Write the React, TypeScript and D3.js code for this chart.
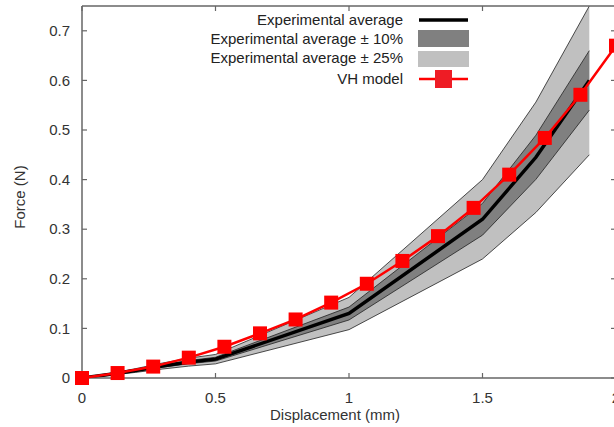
import React from "react";
import * as d3 from "d3";

const WIDTH = 614;
const HEIGHT = 427;
const MARGIN = { top: 6, right: -2, bottom: 49, left: 82 };

// experimental average (mm, N)
const expDisp = [0, 0.1, 0.2, 0.3, 0.4, 0.5, 1.0, 1.5, 1.7, 1.9];
const expForce = [0, 0.007, 0.015, 0.024, 0.032, 0.038, 0.13, 0.32, 0.445, 0.6];

// VH model
const vhDisp = [0, 0.1333, 0.2667, 0.4, 0.5333, 0.6667, 0.8, 0.9333, 1.0667, 1.2, 1.3333, 1.4667, 1.6, 1.7333, 1.8667, 2.0];
const vhForce = [0, 0.01, 0.023, 0.041, 0.063, 0.09, 0.118, 0.152, 0.19, 0.236, 0.286, 0.343, 0.41, 0.484, 0.571, 0.67];

const xTicks = [0, 0.5, 1, 1.5, 2];
const yTicks = [0, 0.1, 0.2, 0.3, 0.4, 0.5, 0.6, 0.7];

const legendLabels = [
  "Experimental average",
  "Experimental average \u00b1 10%",
  "Experimental average \u00b1 25%",
  "VH model",
];

const FONT = "'Liberation Sans', Arial, sans-serif";
const AXIS = "#666";
const TEXT = "#333";

export default function App() {
  const boundsWidth = WIDTH - MARGIN.left - MARGIN.right;
  const boundsHeight = HEIGHT - MARGIN.top - MARGIN.bottom;

  const xScale = d3.scaleLinear().domain([0, 2]).range([0, boundsWidth]);
  const yScale = d3.scaleLinear().domain([0, 0.75]).range([boundsHeight, 0]);

  const exp = expDisp.map((d, i) => ({ x: d, y: expForce[i] }));
  const vh = vhDisp.map((d, i) => ({ x: d, y: vhForce[i] }));

  const band = (k: number) =>
    d3
      .area<{ x: number; y: number }>()
      .x((d) => xScale(d.x))
      .y0((d) => yScale(d.y * (1 - k)))
      .y1((d) => yScale(d.y * (1 + k)))(exp) || "";

  const edge = (k: number) =>
    d3
      .line<{ x: number; y: number }>()
      .x((d) => xScale(d.x))
      .y((d) => yScale(d.y * k))(exp) || "";

  const line = d3
    .line<{ x: number; y: number }>()
    .x((d) => xScale(d.x))
    .y((d) => yScale(d.y));

  const MS = 14;

  return (
    <svg
      width={WIDTH}
      height={HEIGHT}
      style={{ position: "absolute", left: 0, top: 0, background: "#fff" }}
      fontFamily={FONT}
    >
      <defs>
        <clipPath id="plot">
          <rect x={0} y={0} width={boundsWidth} height={boundsHeight} />
        </clipPath>
      </defs>
      <g transform={`translate(${MARGIN.left},${MARGIN.top})`}>
        <g clipPath="url(#plot)">
          <path d={band(0.25)} fill="#c0c0c0" />
          <path d={edge(1.25)} fill="none" stroke="#222" strokeWidth={0.8} />
          <path d={edge(0.75)} fill="none" stroke="#222" strokeWidth={0.8} />
          <path d={band(0.1)} fill="#808080" />
          <path d={edge(1.1)} fill="none" stroke="#222" strokeWidth={0.8} />
          <path d={edge(0.9)} fill="none" stroke="#222" strokeWidth={0.8} />
          <path d={line(exp) || ""} fill="none" stroke="#000" strokeWidth={3.5} />
        </g>

        {/* frame */}
        <line x1={0} x2={0} y1={0} y2={boundsHeight} stroke={AXIS} strokeWidth={1.5} />
        <line x1={0} x2={boundsWidth} y1={0} y2={0} stroke={AXIS} strokeWidth={1.5} />
        <line x1={0} x2={boundsWidth} y1={boundsHeight} y2={boundsHeight} stroke={AXIS} strokeWidth={1.5} />

        {yTicks.map((t) => (
          <g key={"y" + t}>
            <line x1={0} x2={5} y1={yScale(t)} y2={yScale(t)} stroke={AXIS} strokeWidth={1.2} />
            <line x1={boundsWidth} x2={boundsWidth - 5} y1={yScale(t)} y2={yScale(t)} stroke={AXIS} strokeWidth={1.2} />
            <text
              x={-12}
              y={yScale(t)}
              dy="0.35em"
              textAnchor="end"
              fontSize={15}
              fill={TEXT}
            >
              {t}
            </text>
          </g>
        ))}

        {xTicks.map((t) => (
          <g key={"x" + t}>
            <line x1={xScale(t)} x2={xScale(t)} y1={boundsHeight} y2={boundsHeight - 5} stroke={AXIS} strokeWidth={1.2} />
            <line x1={xScale(t)} x2={xScale(t)} y1={0} y2={5} stroke={AXIS} strokeWidth={1.2} />
            <text
              x={xScale(t)}
              y={boundsHeight + 25}
              textAnchor="middle"
              fontSize={15}
              fill={TEXT}
            >
              {t}
            </text>
          </g>
        ))}

        <path d={line(vh) || ""} fill="none" stroke="#ff0000" strokeWidth={2.5} />
        {vh.map((d, i) => (
          <rect
            key={i}
            x={xScale(d.x) - MS / 2}
            y={yScale(d.y) - MS / 2}
            width={MS}
            height={MS}
            fill="#ff0000"
          />
        ))}
      </g>

      {/* axis labels */}
      <text x={335} y={420} textAnchor="middle" fontSize={15} fill={TEXT}>
        Displacement (mm)
      </text>
      <text
        transform="translate(25,197) rotate(-90)"
        textAnchor="middle"
        fontSize={15}
        fill={TEXT}
      >
        Force (N)
      </text>

      {/* legend */}
      <g fontSize={15} fill="#222">
        {legendLabels.map((l, i) => (
          <text key={l} x={403} y={[20, 39, 58, 79][i] + 5} textAnchor="end">
            {l}
          </text>
        ))}
        <line x1={419} x2={468} y1={20} y2={20} stroke="#000" strokeWidth={3.5} />
        <rect x={418} y={30} width={51} height={17} fill="#808080" />
        <rect x={418} y={51} width={51} height={16} fill="#c0c0c0" />
        <line x1={419} x2={468} y1={79} y2={79} stroke="#ff0000" strokeWidth={2.5} />
        <rect x={435} y={70} width={17} height={18} fill="#ee1c25" />
      </g>
    </svg>
  );
}
